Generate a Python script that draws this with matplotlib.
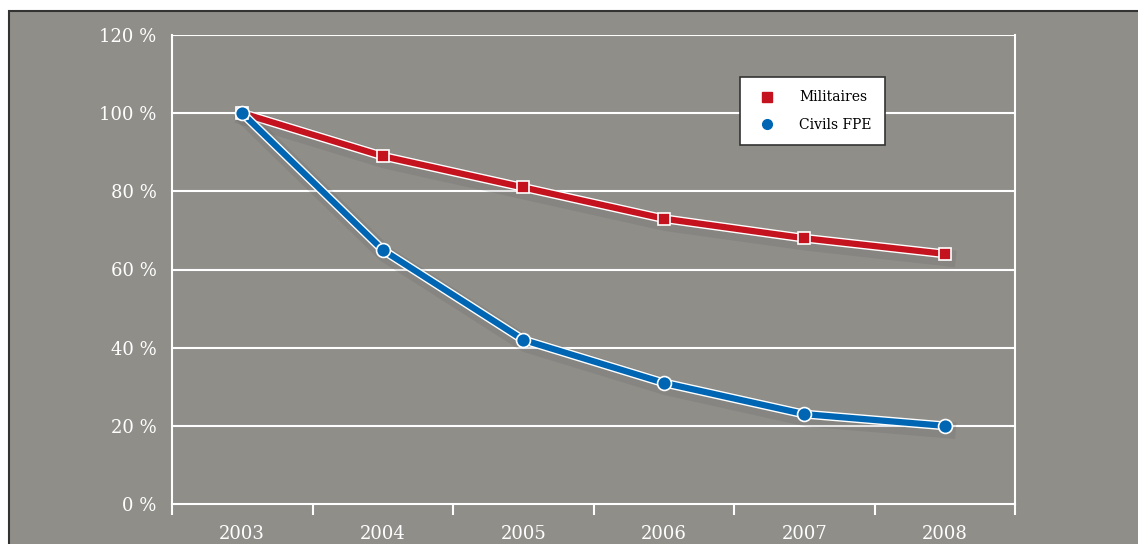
import numpy as np
import matplotlib
matplotlib.use("Agg")
import matplotlib.pyplot as plt
import matplotlib.patheffects as pe
from matplotlib.lines import Line2D
from matplotlib.patches import Rectangle

years = ["2003", "2004", "2005", "2006", "2007", "2008"]
militaires = [100, 89, 81, 73, 68, 64]
civils = [100, 65, 42, 31, 23, 20]
yticks = [0, 20, 40, 60, 80, 100, 120]

bg = "#8f8e89"
red = "#c5121f"
blue = "#0066b3"

plt.rcParams['font.family'] = ['DejaVu Serif']

fig = plt.figure(figsize=(11.38, 5.44), dpi=100)
fig.patch.set_facecolor("white")
# grey panel with dark outline
fig.patches.append(Rectangle((9/1138, -0.01), 1.02, 1 - 11/544 + 0.01,
                             transform=fig.transFigure, facecolor=bg,
                             edgecolor="#333333", linewidth=1.5, zorder=-10))

ax = fig.add_axes([172/1138, 1 - 504/544, (1015-172)/1138, (504-35)/544])
ax.set_facecolor(bg)
ax.patch.set_alpha(0)

x = np.arange(len(years))

halo = [pe.SimpleLineShadow(offset=(2, -3), shadow_color="#555555", alpha=0.15, linewidth=12),
        pe.Stroke(linewidth=6.5, foreground="white"), pe.Normal()]

ax.plot(x, militaires, color=red, lw=4.5, zorder=3, path_effects=halo)
ax.plot(x, militaires, ls="none", marker="s", ms=9, mfc=red, mec="white", mew=1.2, zorder=4)
ax.plot(x, civils, color=blue, lw=4.5, zorder=3, path_effects=halo)
ax.plot(x, civils, ls="none", marker="o", ms=10, mfc=blue, mec="white", mew=1.2, zorder=4)

ax.set_xlim(-0.5, 5.5)
ax.set_ylim(0, 120)
ax.set_yticks(yticks)
ax.set_yticklabels([f"{v} %" for v in yticks])
ax.set_xticks(x)
ax.set_xticklabels(years)
ax.set_xticks(np.arange(-0.5, 6, 1), minor=True)
ax.tick_params(axis="x", which="major", length=0, pad=15, labelsize=13, colors="white")
ax.tick_params(axis="x", which="minor", length=8, width=1.5, color="white", direction="out")
ax.tick_params(axis="y", length=0, pad=11, labelsize=13, colors="white")

for v in yticks[1:]:
    ax.axhline(v, color="white", lw=1.5, zorder=1)
for s in ["left", "right", "bottom"]:
    ax.spines[s].set_color("white")
    ax.spines[s].set_linewidth(1.5)
ax.spines["top"].set_visible(False)

handles = [Line2D([], [], ls="none", marker="s", ms=7, color=red, label="Militaires"),
           Line2D([], [], ls="none", marker="o", ms=7, color=blue, label="Civils FPE")]
leg = ax.legend(handles=handles, loc="upper left", bbox_to_anchor=(0.674, 0.910),
                frameon=True, fancybox=False, fontsize=10, handletextpad=1.3,
                borderpad=0.95, labelspacing=0.95, borderaxespad=0, handlelength=2.0)
leg.get_frame().set_edgecolor("#333333")
leg.get_frame().set_linewidth(1.2)
leg.get_frame().set_facecolor("white")
leg.get_frame().set_alpha(1)

fig.savefig("out.png", dpi=100, facecolor=fig.get_facecolor())
